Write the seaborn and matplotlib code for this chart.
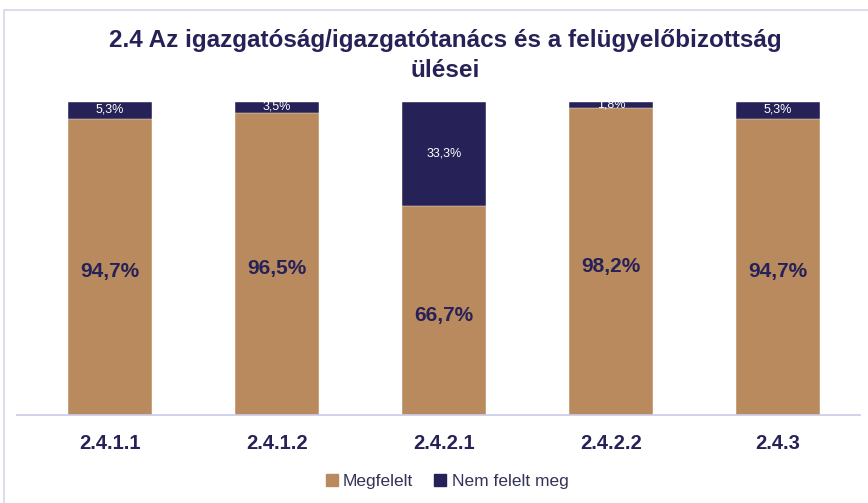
import matplotlib.pyplot as plt
import matplotlib.patches as mpatches
import seaborn as sns
import pandas as pd

sns.set_style("white")
plt.rcParams['font.family'] = ['Liberation Sans', 'DejaVu Sans']

# ====================== DATA ======================
categories = ['2.4.1.1', '2.4.1.2', '2.4.2.1', '2.4.2.2', '2.4.3']
megfelelt = [94.7, 96.5, 66.7, 98.2, 94.7]
nem_felelt = [5.3, 3.5, 33.3, 1.8, 5.3]

df = pd.DataFrame({'cat': categories, 'ok': megfelelt, 'nok': nem_felelt})
df['total'] = df['ok'] + df['nok']

tan = '#B98A5E'
navy = '#262157'

# ====================== PLOT ======================
fig = plt.figure(figsize=(8.68, 5.03), dpi=100)
ax = fig.add_axes([0.0196, 0.175, 0.971, 0.622])

# stacked: total in navy, Megfelelt in tan on top of it
sns.barplot(data=df, x='cat', y='total', color=navy, width=0.5, ax=ax,
            saturation=1, edgecolor='white', linewidth=0.3)
sns.barplot(data=df, x='cat', y='ok', color=tan, width=0.5, ax=ax,
            saturation=1, edgecolor='white', linewidth=0.3)

ax.set_ylim(0, 100)
ax.set_xlim(-0.557, 4.49)
ax.set_xlabel('')
ax.set_ylabel('')
ax.set_yticks([])
for s in ['top', 'right', 'left']:
    ax.spines[s].set_visible(False)
ax.spines['bottom'].set_color('#C9C9E6')
ax.spines['bottom'].set_linewidth(1.2)
ax.tick_params(axis='x', length=0, pad=14)
for lbl in ax.get_xticklabels():
    lbl.set_fontsize(14.5)
    lbl.set_fontweight('bold')
    lbl.set_color(navy)

# value labels
for i, row in df.iterrows():
    ax.text(i, row['ok'] / 2 - 1.5, f"{row['ok']:.1f}%".replace('.', ','),
            ha='center', va='center', fontsize=15, fontweight='bold', color=navy)
    ax.text(i, row['ok'] + row['nok'] / 2 + 0.2, f"{row['nok']:.1f}%".replace('.', ','),
            ha='center', va='center', fontsize=9, color='white')

fig.suptitle('2.4 Az igazgatóság/igazgatótanács és a felügyelőbizottság\nülései',
             x=0.513, y=0.942, fontsize=17.5, fontweight='bold', color=navy,
             linespacing=1.4)

handles = [mpatches.Patch(color=tan, label='Megfelelt'),
           mpatches.Patch(color=navy, label='Nem felelt meg')]
fig.legend(handles=handles, loc='center', bbox_to_anchor=(0.515, 0.043), ncol=2,
           frameon=False, fontsize=12.5, handlelength=0.7, handleheight=0.7,
           handletextpad=0.3, columnspacing=1.2, labelcolor='#333355')

# light frame around the chart
fig.patches.append(mpatches.Rectangle((0.005, -0.05), 1.1, 1.03, transform=fig.transFigure,
                                      fill=False, edgecolor='#D6D6EE', linewidth=1.2))

plt.savefig('out.png', dpi=100)
